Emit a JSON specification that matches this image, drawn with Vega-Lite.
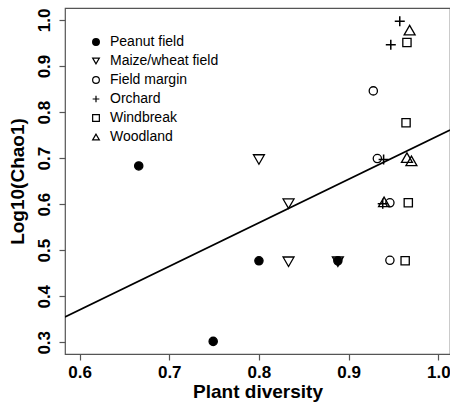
{
  "$schema": "https://vega.github.io/schema/vega-lite/v6.json",
  "width": 385,
  "height": 346,
  "autosize": {"type": "none"},
  "padding": {"left": 65, "top": 8, "right": 0, "bottom": 55},
  "background": "white",
  "config": {
    "font": "Liberation Sans",
    "view": {"stroke": "#555555", "strokeWidth": 1.2},
    "axis": {
      "domain": false,
      "grid": false,
      "tickColor": "#555555",
      "tickSize": 6,
      "tickWidth": 1.2,
      "labelFont": "Liberation Sans",
      "labelFontSize": 17,
      "labelFontWeight": "bold",
      "labelColor": "black",
      "titleFont": "Liberation Sans",
      "titleFontSize": 19,
      "titleFontWeight": "bold",
      "titleColor": "black"
    },
    "legend": {
      "title": null,
      "orient": "none",
      "legendX": 24,
      "legendY": 27,
      "padding": 0,
      "labelFont": "Liberation Sans",
      "labelFontSize": 14,
      "labelColor": "black",
      "labelOffset": 7,
      "rowPadding": 5,
      "symbolSize": 45,
      "symbolStrokeWidth": 1.2
    }
  },
  "datasets": {
    "points": [
      {"habitat": "Peanut field", "diversity": 0.666, "chao": 0.683},
      {"habitat": "Peanut field", "diversity": 0.749, "chao": 0.302},
      {"habitat": "Peanut field", "diversity": 0.800, "chao": 0.477},
      {"habitat": "Peanut field", "diversity": 0.888, "chao": 0.477},
      {"habitat": "Maize/wheat field", "diversity": 0.800, "chao": 0.697},
      {"habitat": "Maize/wheat field", "diversity": 0.833, "chao": 0.601},
      {"habitat": "Maize/wheat field", "diversity": 0.833, "chao": 0.475},
      {"habitat": "Maize/wheat field", "diversity": 0.888, "chao": 0.475},
      {"habitat": "Field margin", "diversity": 0.9275, "chao": 0.846},
      {"habitat": "Field margin", "diversity": 0.932, "chao": 0.699},
      {"habitat": "Field margin", "diversity": 0.946, "chao": 0.603},
      {"habitat": "Field margin", "diversity": 0.946, "chao": 0.478},
      {"habitat": "Orchard", "diversity": 0.957, "chao": 0.997},
      {"habitat": "Orchard", "diversity": 0.947, "chao": 0.946},
      {"habitat": "Orchard", "diversity": 0.939, "chao": 0.697},
      {"habitat": "Orchard", "diversity": 0.938, "chao": 0.601},
      {"habitat": "Windbreak", "diversity": 0.965, "chao": 0.951},
      {"habitat": "Windbreak", "diversity": 0.964, "chao": 0.777},
      {"habitat": "Windbreak", "diversity": 0.9665, "chao": 0.603},
      {"habitat": "Windbreak", "diversity": 0.963, "chao": 0.477},
      {"habitat": "Woodland", "diversity": 0.968, "chao": 0.978},
      {"habitat": "Woodland", "diversity": 0.965, "chao": 0.701},
      {"habitat": "Woodland", "diversity": 0.970, "chao": 0.694},
      {"habitat": "Woodland", "diversity": 0.9395, "chao": 0.605}
    ],
    "fit": [
      {"diversity": 0.5838, "chao": 0.355},
      {"diversity": 1.013, "chao": 0.761}
    ]
  },
  "encoding": {
    "x": {
      "field": "diversity",
      "type": "quantitative",
      "title": "Plant diversity",
      "scale": {"domain": [0.5838, 1.013], "nice": false, "zero": false},
      "axis": {"values": [0.6, 0.7, 0.8, 0.9, 1.0], "format": ".1f", "labelPadding": 4, "titlePadding": 2}
    },
    "y": {
      "field": "chao",
      "type": "quantitative",
      "title": "Log10(Chao1)",
      "scale": {"domain": [0.2746, 1.026], "nice": false, "zero": false},
      "axis": {"values": [0.3, 0.4, 0.5, 0.6, 0.7, 0.8, 0.9, 1.0], "format": ".1f", "labelAngle": -90, "labelAlign": "center", "labelBaseline": "bottom", "labelPadding": 6, "titlePadding": 8}
    }
  },
  "layer": [
    {
      "data": {"name": "fit"},
      "mark": {"type": "line", "color": "black", "strokeWidth": 1.6, "clip": true},
      "encoding": {}
    },
    {
      "data": {"name": "points"},
      "transform": [{"filter": {"field": "habitat", "oneOf": ["Peanut field", "Field margin", "Windbreak"]}}],
      "mark": {"type": "point", "filled": false, "strokeWidth": 1.3, "opacity": 1, "size": 68, "clip": true},
      "encoding": {
        "shape": {
          "field": "habitat",
          "type": "nominal",
          "scale": {
            "domain": ["Peanut field", "Maize/wheat field", "Field margin", "Orchard", "Windbreak", "Woodland"],
            "range": ["circle", "triangle-down", "circle", "M-1,0H1M0,-1V1", "square", "triangle-up"]
          }
        },
        "fill": {
          "field": "habitat",
          "type": "nominal",
          "scale": {
            "domain": ["Peanut field", "Maize/wheat field", "Field margin", "Orchard", "Windbreak", "Woodland"],
            "range": ["black", "transparent", "transparent", "transparent", "transparent", "transparent"]
          }
        },
        "stroke": {
          "field": "habitat",
          "type": "nominal",
          "scale": {
            "domain": ["Peanut field", "Maize/wheat field", "Field margin", "Orchard", "Windbreak", "Woodland"],
            "range": ["black", "black", "black", "black", "black", "black"]
          }
        }
      }
    },
    {
      "data": {"name": "points"},
      "transform": [{"filter": {"field": "habitat", "oneOf": ["Maize/wheat field", "Woodland"]}}],
      "mark": {"type": "point", "filled": false, "strokeWidth": 1.3, "opacity": 1, "size": 120, "clip": true},
      "encoding": {
        "shape": {"field": "habitat", "type": "nominal"},
        "fill": {"field": "habitat", "type": "nominal"},
        "stroke": {"field": "habitat", "type": "nominal"}
      }
    },
    {
      "data": {"name": "points"},
      "transform": [{"filter": {"field": "habitat", "oneOf": ["Orchard"]}}],
      "mark": {"type": "point", "filled": false, "strokeWidth": 1.5, "opacity": 1, "size": 100, "clip": true},
      "encoding": {
        "shape": {"field": "habitat", "type": "nominal"},
        "fill": {"field": "habitat", "type": "nominal"},
        "stroke": {"field": "habitat", "type": "nominal"}
      }
    }
  ]
}
